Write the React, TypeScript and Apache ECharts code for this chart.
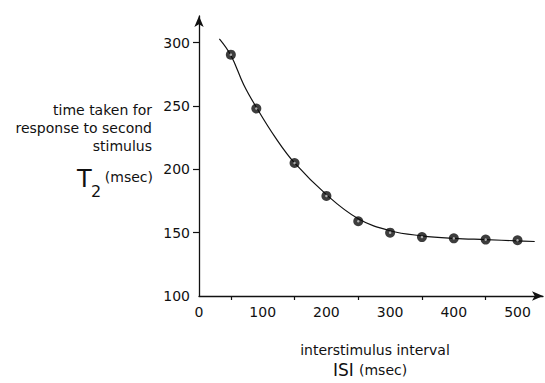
import React, { useEffect, useRef } from "react";
import * as echarts from "echarts";

// Measured data points (ISI in msec, T2 in msec)
const isiValues = [50, 90, 150, 200, 250, 300, 350, 400, 450, 500];
const t2Values = [290.5, 248, 205, 179, 159, 150, 146.5, 145.5, 144.5, 144];

// Fitted curve
const curveIsi = [32, 50, 70, 90, 120, 150, 200, 250, 300, 350, 400, 450, 500, 527];
const curveT2 = [303, 290, 267, 249, 225, 205, 180, 161, 151.5, 147.5, 145.5, 144.5, 143.5, 143];

// Tick labels
const xLabelValues = [0, 100, 200, 300, 400, 500];
const xTickValues = [50, 150, 250, 350, 450];
const yLabelValues = [100, 150, 200, 250, 300];
const yTickValues = [150, 200, 250, 300];

const FONT = "DejaVu Sans";
const INK = "#111111";

export default function App() {
  const ref = useRef<HTMLDivElement>(null);

  useEffect(() => {
    if (!ref.current) return;
    const chart = echarts.init(ref.current, undefined, { renderer: "svg" });

    const points = isiValues.map((x, i) => [x, t2Values[i]]);
    const curve = curveIsi.map((x, i) => [x, curveT2[i]]);

    chart.setOption({
      animation: false,
      backgroundColor: "#ffffff",
      grid: {
        left: 199,
        right: 2,
        top: 16,
        bottom: 87,
        containLabel: false,
        outerBoundsMode: "none",
      },
      xAxis: {
        type: "value",
        min: 0,
        max: 540,
        splitLine: { show: false },
        axisLine: {
          show: true,
          onZero: false,
          symbol: ["none", "arrow"],
          symbolSize: [7, 11],
          lineStyle: { color: INK, width: 1.3 },
        },
        axisTick: {
          show: true,
          customValues: xTickValues,
          length: 4,
          lineStyle: { color: INK, width: 1.2 },
        },
        axisLabel: {
          customValues: xLabelValues,
          margin: 9,
          color: INK,
          fontFamily: FONT,
          fontSize: 14,
        },
      },
      yAxis: {
        type: "value",
        min: 100,
        max: 321,
        splitLine: { show: false },
        axisLine: {
          show: true,
          onZero: false,
          symbol: ["none", "arrow"],
          symbolSize: [7, 11],
          lineStyle: { color: INK, width: 1.3 },
        },
        axisTick: {
          show: true,
          customValues: yTickValues,
          length: 6,
          lineStyle: { color: INK, width: 1.2 },
        },
        axisLabel: {
          customValues: yLabelValues,
          margin: 9,
          color: INK,
          fontFamily: FONT,
          fontSize: 14,
        },
      },
      series: [
        {
          type: "line",
          data: curve,
          smooth: 0.4,
          showSymbol: false,
          lineStyle: { color: INK, width: 1.2 },
          z: 2,
        },
        {
          type: "scatter",
          data: points,
          symbol: "circle",
          symbolSize: 10,
          itemStyle: { color: "#0d0d0d" },
          z: 3,
        },
        {
          type: "scatter",
          data: points,
          symbol: "circle",
          symbolSize: 2.5,
          itemStyle: { color: "#cfcfcf" },
          z: 4,
        },
      ],
      graphic: [
        {
          type: "text",
          x: 152,
          y: 110,
          style: { text: "time taken for", fill: INK, font: `14px "${FONT}"`, align: "right", verticalAlign: "middle" },
        },
        {
          type: "text",
          x: 152,
          y: 128,
          style: { text: "response to second", fill: INK, font: `14px "${FONT}"`, align: "right", verticalAlign: "middle" },
        },
        {
          type: "text",
          x: 152,
          y: 146,
          style: { text: "stimulus", fill: INK, font: `14px "${FONT}"`, align: "right", verticalAlign: "middle" },
        },
        {
          type: "text",
          x: 77,
          y: 179,
          style: { text: "T", fill: INK, font: `24px "${FONT}"`, align: "left", verticalAlign: "middle" },
        },
        {
          type: "text",
          x: 91,
          y: 191,
          style: { text: "2", fill: INK, font: `16px "${FONT}"`, align: "left", verticalAlign: "middle" },
        },
        {
          type: "text",
          x: 153,
          y: 177,
          style: { text: "(msec)", fill: INK, font: `14px "${FONT}"`, align: "right", verticalAlign: "middle" },
        },
        {
          type: "text",
          x: 375,
          y: 350,
          style: { text: "interstimulus interval", fill: INK, font: `14px "${FONT}"`, align: "center", verticalAlign: "middle" },
        },
        {
          type: "text",
          x: 333,
          y: 370,
          style: { text: "ISI", fill: INK, font: `17px "${FONT}"`, align: "left", verticalAlign: "middle" },
        },
        {
          type: "text",
          x: 359,
          y: 370,
          style: { text: "(msec)", fill: INK, font: `14px "${FONT}"`, align: "left", verticalAlign: "middle" },
        },
      ],
    });

    return () => chart.dispose();
  }, []);

  return <div ref={ref} style={{ width: 545, height: 383, position: "absolute", left: 0, top: 0 }} />;
}
